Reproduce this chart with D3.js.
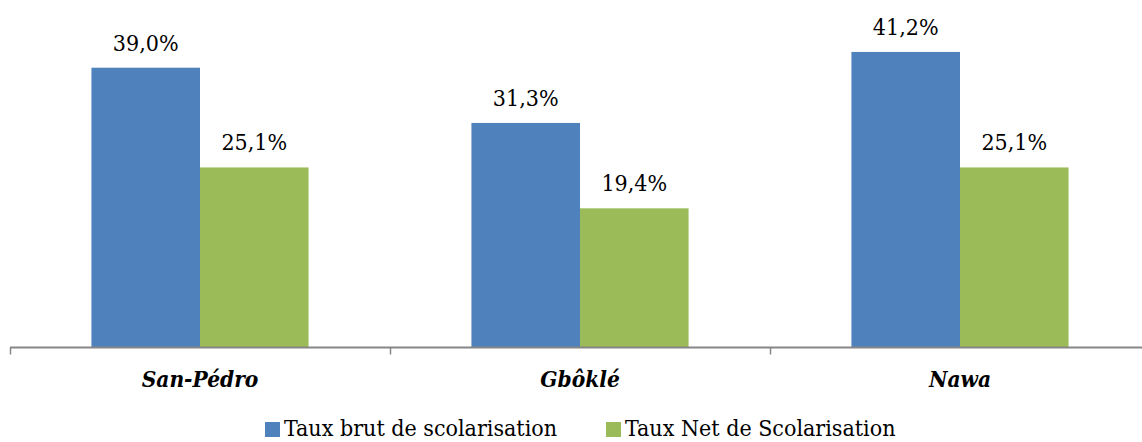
<!DOCTYPE html>
<html>
<head>
<meta charset="utf-8">
<script src="https://cdn.jsdelivr.net/npm/d3@7"></script>
<style>
  html, body { margin: 0; padding: 0; background: #fff; }
  svg { display: block; }
</style>
</head>
<body>
<svg id="chart" width="1142" height="442"></svg>
<script>
// School enrolment rates by region (%)
const categories = ["San-Pédro", "Gbôklé", "Nawa"];
const seriesNames = ["Taux brut de scolarisation", "Taux Net de Scolarisation"];
const tauxBrut = [39.0, 31.3, 41.2];
const tauxNet = [25.1, 19.4, 25.1];
const seriesColors = ["#4F81BD", "#9BBB59"];

const FONT = "'DejaVu Serif Condensed', 'DejaVu Serif', serif";

const seriesValues = [tauxBrut, tauxNet];
const rows = categories.map((c, i) => ({
  category: c,
  values: seriesValues.map((vals, s) => ({ series: s, value: vals[i] }))
}));

const svg = d3.select("#chart");
const baseY = 347.5;
const pxPerUnit = 7.174;
const yMax = 45;

const x0 = d3.scaleBand().domain(categories).range([10, 1150]).padding(0);
const bw = x0.bandwidth() / 3.5;           // gap width 150%
const x1 = d3.scaleBand().domain(d3.range(seriesNames.length))
  .range([0.75 * bw, 2.75 * bw]).padding(0);
const y = d3.scaleLinear().domain([0, yMax]).range([baseY, baseY - yMax * pxPerUnit]);

const fmt = v => d3.format(".1f")(v).replace(".", ",") + "%";

const groups = svg.append("g").selectAll("g")
  .data(rows).join("g")
  .attr("transform", d => `translate(${x0(d.category)},0)`);

groups.selectAll("rect")
  .data(d => d.values).join("rect")
  .attr("x", d => x1(d.series))
  .attr("width", x1.bandwidth())
  .attr("y", d => y(d.value))
  .attr("height", d => y(0) - y(d.value))
  .attr("fill", d => seriesColors[d.series]);

groups.selectAll("text.val")
  .data(d => d.values).join("text")
  .attr("class", "val")
  .attr("x", d => x1(d.series) + x1.bandwidth() / 2)
  .attr("y", d => y(d.value) - 17)
  .attr("text-anchor", "middle")
  .style("font-family", FONT)
  .attr("font-size", 23)
  .attr("fill", "#000")
  .text(d => fmt(d.value));

// Category axis
const axis = d3.axisBottom(x0).tickSize(0).tickFormat("");
const axisG = svg.append("g").attr("transform", `translate(0,${baseY})`).call(axis);
axisG.select(".domain").remove();
axisG.append("line")
  .attr("x1", 10).attr("x2", 1142).attr("y1", 0).attr("y2", 0)
  .attr("stroke", "#868686").attr("stroke-width", 2);
axisG.selectAll("line.sep")
  .data([...categories.map(c => x0(c)), x0.range()[1]]).join("line")
  .attr("class", "sep")
  .attr("x1", d => d + 0.5).attr("x2", d => d + 0.5)
  .attr("y1", 0).attr("y2", 7)
  .attr("stroke", "#868686").attr("stroke-width", 1.5);

svg.append("g").selectAll("text")
  .data(categories).join("text")
  .attr("x", d => x0(d) + x0.bandwidth() / 2)
  .attr("y", 387)
  .attr("text-anchor", "middle")
  .style("font-family", FONT)
  .attr("font-size", 22.5)
  .attr("font-weight", "bold")
  .attr("font-style", "italic")
  .attr("fill", "#000")
  .text(d => d);

// Legend
const legendX = [265, 606];
const legend = svg.append("g").selectAll("g")
  .data(seriesNames).join("g")
  .attr("transform", (d, i) => `translate(${legendX[i]},0)`);
legend.append("rect")
  .attr("x", 0).attr("y", 422).attr("width", 15).attr("height", 15)
  .attr("fill", (d, i) => seriesColors[i]);
legend.append("text")
  .attr("x", 19).attr("y", 436)
  .style("font-family", FONT)
  .attr("font-size", 23)
  .attr("fill", "#000")
  .text(d => d);
</script>
</body>
</html>
